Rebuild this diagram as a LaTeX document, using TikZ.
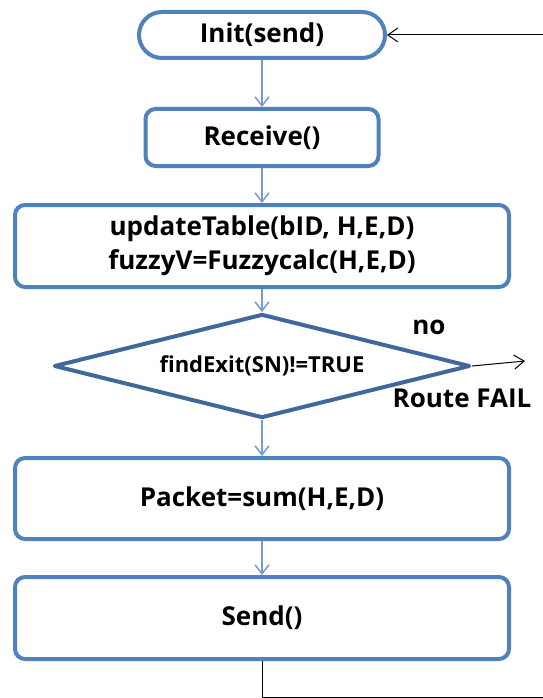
\documentclass[tikz,border=0pt]{standalone}
\usepackage{fontspec}
\setmainfont{Open Sans}
\usetikzlibrary{positioning,shapes.geometric,arrows.meta}
\definecolor{boxblue}{RGB}{79,129,189}
\definecolor{darkblue}{RGB}{65,104,154}
\definecolor{lineblue}{RGB}{120,155,205}

\begin{document}
\begin{tikzpicture}[node distance={35pt}, font=\bfseries\fontsize{26}{34}\selectfont,
		main/.style = {draw=boxblue, line width=4pt, rounded corners=10pt, minimum width=494pt, minimum height=82pt, align=center, inner sep=0pt},
		cond/.style = {draw=darkblue, line width=4pt, shape=diamond, aspect=3.9, line join=round, minimum width=416pt, minimum height=104pt, inner sep=0pt, font=\bfseries\fontsize{22}{26}\selectfont},
		flow/.style = {draw=lineblue, line width=1.5pt, -{Straight Barb[length=9pt,width=14pt]}},
		back/.style = {draw=black, line width=1pt, -{Straight Barb[length=10pt,width=14pt]}}]
		\useasboundingbox (0,0) rectangle (542pt,-698pt);
		\node[main] (1) at (262pt,-35pt) [rounded corners=23pt, minimum width=246pt, minimum height=46pt] {Init(send)};
		\node[main] (2) [below=47pt of 1] [minimum width=233pt, minimum height=57pt] {Receive()};
		\node[main] (3) [below=of 2] {updateTable(bID, H,E,D)\\fuzzyV=Fuzzycalc(H,E,D)};
		\node[cond] (4) [below=23pt of 3] {findExit(SN)!=TRUE};
		\node[main] (5) [below=36pt of 4] [minimum height=81pt] {Packet=sum(H,E,D)};
		\node[main] (6) [below=34pt of 5] {Send()};
		\node (7) at ([xshift=-43pt,yshift=39pt]4.east) {no};
		\node (8) at ([xshift=-10pt,yshift=-32pt]4.east) {Route FAIL};
		\coordinate (9) at ([xshift=53pt,yshift=5pt]4.east);
		\coordinate (10) at (545pt,-697pt);
		\path (1) edge[flow] (2)
			(2) edge[flow] (3)
			(3) edge[flow] (4)
			(4) edge[flow] (5)
			(5) edge[flow] (6);
		\draw[back] (4.east) -- (9);
		\draw[back] (6.south) |- (10) |- (1.east);
	\end{tikzpicture}
\end{document}
